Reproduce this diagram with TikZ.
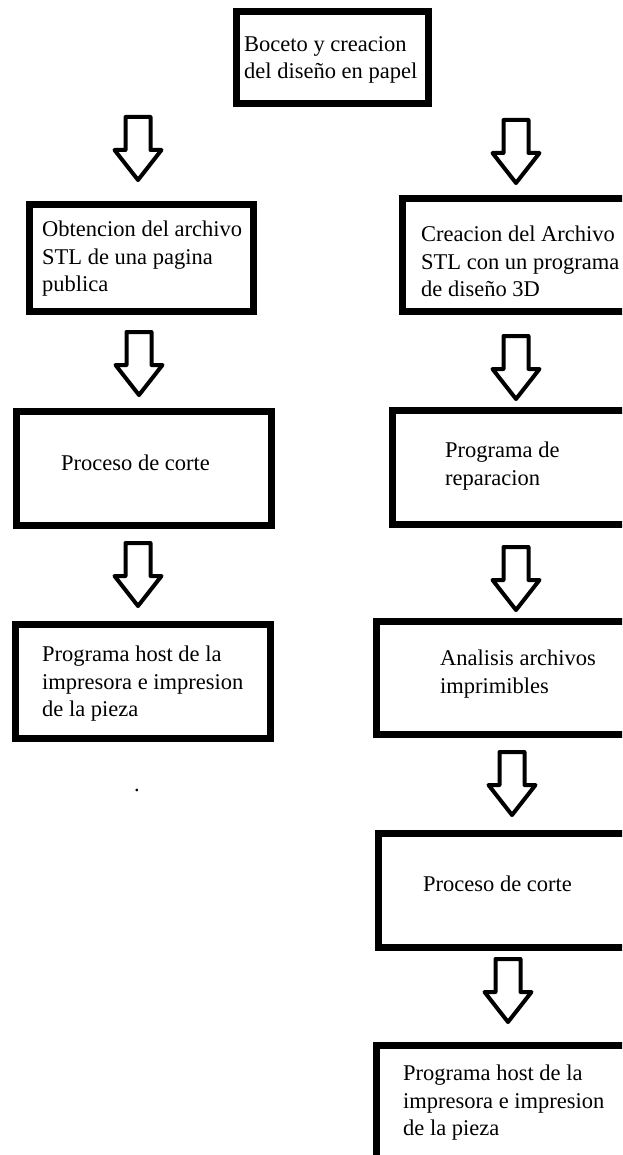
\documentclass[tikz,border=0pt]{standalone}
\usepackage{fontspec}
\setmainfont{Liberation Serif}
\tikzset{
  caja/.style={draw, line width=7pt, inner sep=0pt},
  texto/.style={anchor=north west, align=left, inner sep=0pt, font=\fontsize{22.5}{27.5}\selectfont},
  flecha/.pic={\draw[line width=4pt, line join=round] (-12.5,2) -- (12.5,2) -- (12.5,35) -- (23.5,35) -- (0,65) -- (-23.5,35) -- (-12.5,35) -- cycle;}
}
\begin{document}
\begin{tikzpicture}[x=1pt,y=-1pt]
\useasboundingbox (0,0) rectangle (622,1155);
\clip (0,0) rectangle (622,1155);
% cajas
\node[caja, minimum width=192, minimum height=92] (b0) at (332.5,57.5) {};
\node[caja, minimum width=224, minimum height=107] (izq1) at (141.5,258) {};
\node[caja, minimum width=255, minimum height=114] (izq2) at (144,468.5) {};
\node[caja, minimum width=255, minimum height=114] (izq3) at (143,681.5) {};
\node[caja, minimum width=234, minimum height=113] (der1) at (519.5,255) {};
\node[caja, minimum width=244, minimum height=114] (der2) at (514.5,467.5) {};
\node[caja, minimum width=260, minimum height=113] (der3) at (506.5,678) {};
\node[caja, minimum width=258, minimum height=114] (der4) at (507.5,890.5) {};
\node[caja, minimum width=260, minimum height=126] (der5) at (506.5,1108.5) {};
% textos
\node[texto] (t0) at (244,36) {Boceto y creacion\\del diseño en papel};
\node[texto] (ti1) at (42,221) {Obtencion del archivo\\STL de una pagina\\publica};
\node[texto] (ti2) at (61,455) {Proceso de corte};
\node[texto] (ti3) at (42,646) {Programa host de la\\impresora e impresion\\de la pieza};
\node[texto] (td1) at (421,226) {Creacion del Archivo\\STL con un programa\\de diseño 3D};
\node[texto] (td2) at (445,442) {Programa de\\reparacion};
\node[texto] (td3) at (440,650) {Analisis archivos\\imprimibles};
\node[texto] (td4) at (423,876) {Proceso de corte};
\node[texto] (td5) at (403,1065) {Programa host de la\\impresora e impresion\\de la pieza};
\node[font=\fontsize{22.5}{27.5}\selectfont, inner sep=0pt, anchor=base] (punto) at (137,791) {.};
% flechas
\pic (fi1) at (138,115) {flecha};
\pic (fi2) at (139,330) {flecha};
\pic (fi3) at (138,541) {flecha};
\pic (fd1) at (516,118) {flecha};
\pic (fd2) at (516,334) {flecha};
\pic (fd3) at (516,545) {flecha};
\pic (fd4) at (512,750) {flecha};
\pic (fd5) at (508,957) {flecha};
\end{tikzpicture}
\end{document}
